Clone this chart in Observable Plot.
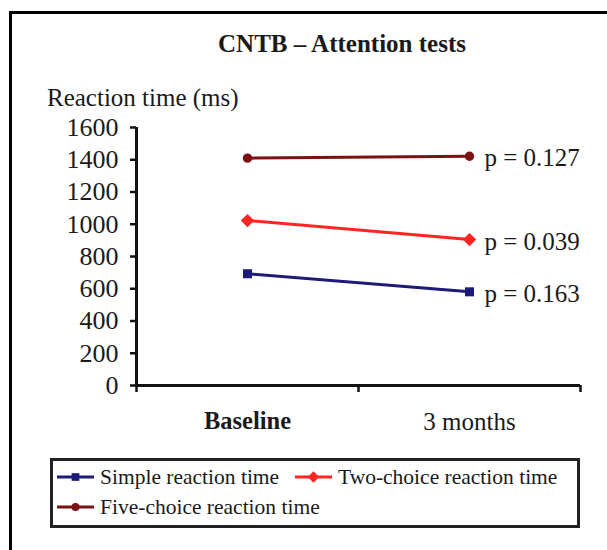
<!DOCTYPE html>
<html>
<head>
<meta charset="utf-8">
<script src="https://cdn.jsdelivr.net/npm/d3@7"></script>
<script src="https://cdn.jsdelivr.net/npm/@observablehq/plot@0.6"></script>
<style>
  html, body { margin: 0; padding: 0; background: #fff; }
  #wrap { position: relative; width: 607px; height: 550px; overflow: hidden; font-family: "Liberation Serif", "Times New Roman", serif; color: #1a1a1a; }
  #frame { position: absolute; left: 9px; top: 11px; width: 700px; height: 700px; border: 3px solid #000; }
  #title { position: absolute; left: 0; top: 29px; width: 684px; text-align: center; font-weight: bold; font-size: 25px; line-height: 30px; }
  #ylabel { position: absolute; left: 47px; top: 83px; font-size: 25px; line-height: 30px; }
  #chart { position: absolute; left: 0; top: 100px; }
  #legend { position: absolute; left: 50px; top: 458px; width: 530px; height: 70px; box-sizing: border-box; border: 3px solid #222; }
  .item { position: absolute; display: flex; align-items: center; font-size: 21.5px; line-height: 24px; white-space: nowrap; }
  .item svg { margin-right: 6px; }
</style>
</head>
<body>
<div id="wrap">
  <div id="frame"></div>
  <div id="title"></div>
  <div id="ylabel"></div>
  <div id="chart"></div>
  <div id="legend"></div>
</div>
<script>
const titleText = "CNTB – Attention tests";
const yLabelText = "Reaction time (ms)";
const categories = ["Baseline", "3 months"];
const seriesNames = ["Simple reaction time", "Two-choice reaction time", "Five-choice reaction time"];
const simple = [693, 581];
const twoChoice = [1023, 905];
const fiveChoice = [1410, 1422];
const pLabels = ["p = 0.163", "p = 0.039", "p = 0.127"];
const yTicks = [0, 200, 400, 600, 800, 1000, 1200, 1400, 1600];
const colors = ["#1d1b78", "#ff2424", "#7a1214"];
const symbols = ["square", "diamond2", "circle"];
const radii = [5.1, 6, 4.7];

const seriesValues = [simple, twoChoice, fiveChoice];
const rows = [];
seriesValues.forEach((vals, s) => vals.forEach((v, i) => rows.push({series: seriesNames[s], idx: i + 0.5, cat: categories[i], value: v})));
const catRows = categories.map((c, i) => ({idx: i + 0.5, cat: c}));
const lastRows = seriesValues.map((vals, s) => ({series: seriesNames[s], idx: vals.length - 0.5, value: vals[vals.length - 1], label: pLabels[s]}));

document.getElementById("title").textContent = titleText;
document.getElementById("ylabel").textContent = yLabelText;

const chart = Plot.plot({
  width: 607,
  height: 345,
  marginTop: 27,
  marginBottom: 60,
  marginLeft: 136,
  marginRight: 27,
  style: {fontFamily: "'Liberation Serif', 'Times New Roman', serif", color: "#1a1a1a", background: "transparent"},
  x: {type: "linear", domain: [0, categories.length]},
  y: {domain: [0, 1600]},
  color: {domain: seriesNames, range: colors},
  marks: [
    Plot.axisY({ticks: yTicks, tickFormat: "d", tickSize: 6, tickPadding: 12, fontSize: 26, strokeWidth: 2.5, stroke: "#111", label: null}),
    Plot.axisX({ticks: d3.range(categories.length + 1), tickSize: 7, tickFormat: () => "", strokeWidth: 2.5, stroke: "#111", label: null}),
    Plot.ruleX([0], {stroke: "#111", strokeWidth: 3}),
    Plot.ruleY([0], {stroke: "#111", strokeWidth: 3}),
    Plot.text(catRows.filter((d, i) => i === 0), {x: "idx", text: "cat", frameAnchor: "bottom", dy: 36, lineAnchor: "middle", fontSize: 24.5, fontWeight: "bold", fill: "#1a1a1a"}),
    Plot.text(catRows.filter((d, i) => i > 0), {x: "idx", text: "cat", frameAnchor: "bottom", dy: 36, lineAnchor: "middle", fontSize: 25, fill: "#1a1a1a"}),
    Plot.line(rows, {x: "idx", y: "value", z: "series", stroke: "series", strokeWidth: 3}),
    ...seriesNames.map((s, k) => Plot.dot(rows.filter(d => d.series === s), {x: "idx", y: "value", symbol: () => symbols[k], r: radii[k], fill: colors[k], stroke: "none"})),
    Plot.text(lastRows, {x: "idx", y: "value", text: "label", textAnchor: "start", dx: 15, dy: 2, fontSize: 25, fill: "#1a1a1a"})
  ]
});
document.getElementById("chart").appendChild(chart);

// Legend
const legendPos = [[4, 16], [242, 16], [4, 46]];
const legend = document.getElementById("legend");
seriesNames.forEach((name, k) => {
  const item = document.createElement("div");
  item.className = "item";
  item.style.left = legendPos[k][0] + "px";
  item.style.top = (legendPos[k][1] - 12) + "px";
  const svg = d3.create("svg").attr("width", 37).attr("height", 24);
  svg.append("line").attr("x1", 0).attr("x2", 37).attr("y1", 12).attr("y2", 12).attr("stroke", colors[k]).attr("stroke-width", 3);
  const symMap = {square: d3.symbolSquare, diamond2: d3.symbolDiamond2, circle: d3.symbolCircle};
  const r = radii[k] * 0.85;
  svg.append("path").attr("transform", "translate(18.5,12)").attr("d", d3.symbol(symMap[symbols[k]], Math.PI * r * r)()).attr("fill", colors[k]);
  item.appendChild(svg.node());
  const span = document.createElement("span");
  span.textContent = name;
  item.appendChild(span);
  legend.appendChild(item);
});
</script>
</body>
</html>
